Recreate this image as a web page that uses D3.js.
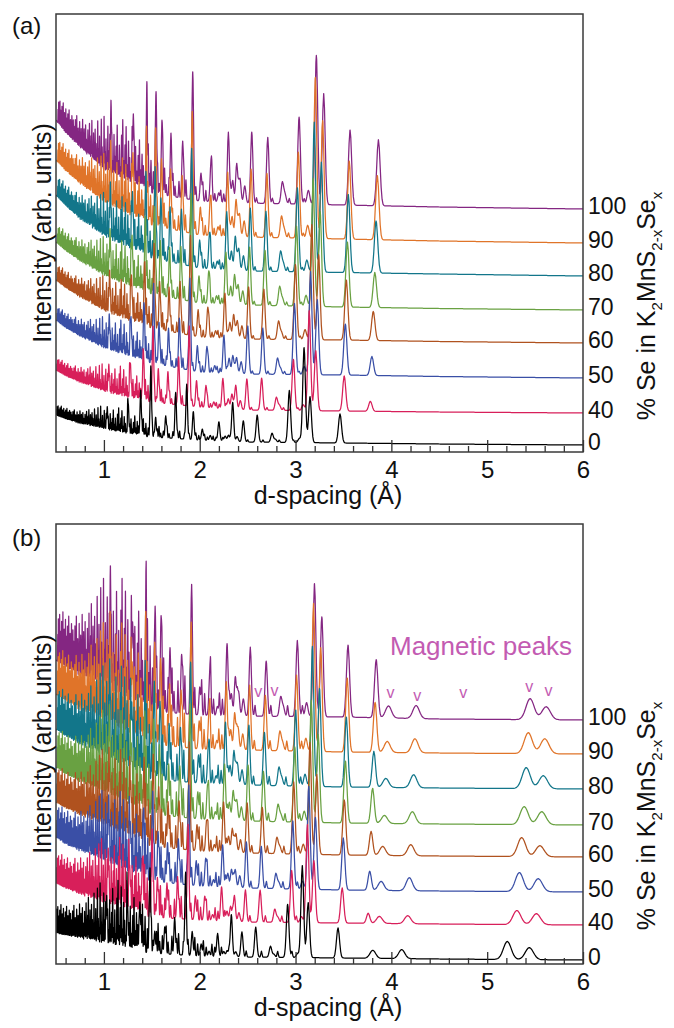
<!DOCTYPE html>
<html><head><meta charset="utf-8">
<script src="https://cdn.jsdelivr.net/npm/d3@7"></script>
<style>
body{margin:0;background:#fff}
text{font-family:"Liberation Sans",Arial,sans-serif;fill:#111}
</style></head>
<body><svg id="chart" width="674" height="1028"></svg>
<script>
// ---------------- DATA ----------------
const seriesLabels = ["0","40","50","60","70","80","90","100"];
const seriesColors = ["#000000","#d81f5a","#3a4fa6","#b0521f","#69a142","#12768a","#e07429","#842682"];
// fraction of the way from the 0 % to the 100 % peak positions (read from peak shifts)
const posFrac = [0, 0.42, 0.53, 0.63, 0.74, 0.83, 0.92, 1.0];
// baseline of each trace at d = 6 Å (intensity units above the panel floor)
const offsetsA = [7, 39, 74, 109, 142, 176, 209, 243];
const offsetsB = [4, 39, 72, 107, 139, 175, 210, 244];
// background (lower envelope) above each baseline
const bgD = [0.5, 0.6, 0.75, 1.0, 1.25, 1.5, 2.0, 2.5, 3.5, 4.5, 6.0];
const bgA = [
  [30, 26, 21, 15, 10, 8, 5, 3, 2, 1, 0],
  [43, 37, 30, 20, 14, 11, 6, 3, 2, 1, 0],
  [58, 50, 41, 28, 20, 15, 6, 4, 3, 1.5, 0],
  [63, 55, 45, 30, 21, 15, 6, 4, 3, 1.5, 0],
  [68, 59, 48, 32, 22, 16, 7, 5, 3, 1.5, 0],
  [81, 70, 56, 37, 26, 18, 8, 5, 3.5, 2, 0],
  [83, 72, 58, 38, 26, 18, 8, 6, 4, 2, 0],
  [89, 76, 60, 36, 25, 16, 8, 6, 4, 2, 0]
];
const bgB = [
  [27, 24, 20, 13, 9, 7, 4, 3, 2, 1, 0],
  [42, 36, 29, 18, 12, 8, 5, 3, 2, 1, 0],
  [55, 47, 39, 27, 17, 11, 6, 4, 2, 1, 0],
  [55, 48, 40, 27, 17, 11, 6, 4, 2, 1, 0],
  [58, 50, 41, 28, 17, 11, 6, 4, 2, 1, 0],
  [60, 52, 42, 28, 16, 10, 6, 4, 2, 1, 0],
  [60, 52, 42, 28, 15, 10, 5, 4, 2, 1, 0],
  [60, 52, 42, 28, 14, 9, 5, 4, 3, 1, 0]
];
// main reflections: d at 0 % Se, d at 100 % Se
const reflD0   = [1.035,1.255,1.384,1.490,1.540,1.645,1.749,1.864,1.933,2.027,2.110,2.200,2.265,2.300,2.344,2.390,2.455,2.600,2.755,2.790,2.935,3.040,3.089,3.151,3.464,3.720];
const reflD100 = [1.074,1.307,1.447,1.544,1.606,1.700,1.822,1.927,2.013,2.118,2.198,2.299,2.344,2.386,2.420,2.470,2.543,2.710,2.862,2.890,3.037,3.134,3.217,3.294,3.569,3.865];
// heights per reflection, one value per series (0,40,...,100 %)
const reflHA = [
  [24,30,38,45,52,60,68,76],[30,36,42,48,54,60,66,72],[46,52,58,62,68,72,78,84],[71,76,80,85,88,92,98,102],
  [20,34,42,48,55,62,68,74],[22,32,38,44,50,55,60,63],[46,48,50,52,53,55,56,57],[55,80,92,100,108,118,122,128],
  [28,26,26,27,27,28,28,28],[11,22,26,30,32,35,37,39],[5,6,7,7,8,8,9,9],[19,30,38,45,52,58,64,70],
  [5,10,15,16,18,19,20,22],[6,15,18,24,30,34,37,39],[39,24,16,18,20,22,23,24],[5,9,12,13,14,15,16,17],
  [21,31,48,52,58,63,68,71],[27,32,46,50,55,60,64,66],[9,13,16,18,19,20,21,21],[3,5,6,7,7,8,8,9],
  [52,51,71,75,80,84,86,87],[4,6,8,10,11,12,13,14],[95,100,103,115,128,150,161,149],[46,60,75,85,95,110,118,111],
  [29,35,51,60,65,78,78,75],[0,10,19,29,35,52,64,66]
];
const reflHB = [
  [52,60,72,85,95,105,118,130],[44,48,54,60,66,72,78,85],[50,58,64,70,76,82,90,97],[85,88,90,92,95,98,102,105],
  [22,40,50,60,70,78,86,95],[27,35,40,46,52,57,62,65],[37,42,45,48,51,54,57,59],[83,95,100,108,114,120,126,130],
  [24,24,25,26,27,28,28,28],[12,24,28,31,34,36,39,41],[5,6,7,7,8,8,9,9],[23,34,42,50,56,62,68,72],
  [5,10,14,16,18,19,20,22],[6,15,18,24,30,34,37,39],[42,26,18,19,21,22,23,24],[5,9,12,13,14,15,16,17],
  [25,32,46,50,56,60,65,69],[30,32,42,46,50,53,55,55],[11,13,15,16,17,18,19,19],[3,5,6,7,7,8,8,9],
  [53,52,68,72,75,76,76,76],[4,6,8,10,11,12,13,14],[92,98,103,112,122,140,148,133],[55,62,72,80,88,98,104,100],
  [30,35,52,55,62,70,74,72],[0,10,19,24,35,36,50,58]
];
// dense weak reflections at short d-spacing (positions for 0 % Se, heights for trace "0" in panel a)
const forest = [
  [0.503,5],[0.509,8],[0.516,4],[0.522,9],[0.529,6],[0.535,3],[0.542,8],[0.548,5],[0.555,10],[0.561,4],
  [0.568,7],[0.574,3],[0.581,9],[0.588,6],[0.594,4],[0.601,8],[0.608,5],[0.614,10],[0.621,3],[0.628,7],
  [0.635,5],[0.642,9],[0.649,4],[0.656,8],[0.663,6],[0.670,3],[0.677,9],[0.684,5],[0.691,11],[0.698,4],
  [0.705,7],[0.713,5],[0.720,10],[0.727,3],[0.735,8],[0.742,6],[0.750,12],[0.757,4],[0.765,9],[0.772,5],
  [0.780,11],[0.788,6],[0.796,4],[0.803,10],[0.811,7],[0.819,13],[0.827,5],[0.835,9],[0.843,15],[0.851,6],
  [0.860,11],[0.868,4],[0.876,13],[0.885,8],[0.893,5],
  [0.902,17],[0.911,7],[0.920,12],[0.929,5],[0.938,19],[0.947,9],[0.956,6],[0.966,21],[0.975,8],[0.985,13],
  [0.994,5],[1.004,18],[1.014,9],[1.024,14],[1.045,11],[1.055,6],[1.066,16],[1.076,8],[1.087,12],[1.098,20],
  [1.109,7],[1.120,13],[1.131,5],[1.142,17],[1.154,23],[1.165,8],[1.177,14],[1.188,21],[1.200,7],[1.212,16],
  [1.224,10],[1.236,5],[1.248,19],[1.270,9],[1.283,15],[1.296,6],[1.309,12],[1.322,18],[1.335,7],[1.348,13],
  [1.361,9],[1.374,5],[1.398,11],[1.411,16],[1.425,7],[1.438,12],
  [1.462,8],[1.478,5],[1.505,9],[1.522,4],[1.558,7],[1.575,10],[1.592,4],[1.620,6],[1.660,8],[1.680,4],
  [1.720,6],[1.770,5],[1.790,7],[1.840,4],[1.890,5],[1.960,6],[1.990,4],[2.050,5],[2.080,3],[2.140,4],
  [2.170,3],[2.240,3],[2.320,2],[2.500,2],[2.660,2],[2.830,2],[2.980,2]
];
const forestAmpA = [1.1, 1.35, 1.55, 1.75, 1.95, 2.2, 2.45, 2.7];
const forestAmpB = [3.0, 3.2, 3.5, 3.8, 4.1, 4.5, 4.9, 5.4];
const forestExpansion = 0.037;   // d(100 %)/d(0 %) - 1
const cellScaleB = 0.994;        // panel (b) peak positions relative to panel (a)
// magnetic reflections (panel b only)
const magD0   = [3.806, 4.108, 5.21, 5.44];
const magD100 = [3.970, 4.258, 5.448, 5.615];
const magH = [[8,7,9,9,8,9,11,12],[9,8,13,11,12,13,14,13],[18,14,19,19,18,21,21,21],[12,11,13,11,13,13,15,13]];
const markerD = [2.61, 2.78, 3.99, 4.27, 4.75, 5.44, 5.64];
const markerLevel = [27, 28, 26, 23, 26, 32, 28];
const majorTicks = [1, 2, 3, 4, 5, 6];
const minorTicks = [0.6,0.8,1.2,1.4,1.6,1.8,2.2,2.4,2.6,2.8,3.2,3.4,3.6,3.8,4.2,4.4,4.6,4.8,5.2,5.4,5.6,5.8];

// ---------------- DRAWING ----------------
const svg = d3.select("#chart");
const x = d3.scaleLinear().domain([0.5, 6]).range([56, 583]);
const magColor = "#c35bb2";

function makeGrid(extra) {
  const g = [];
  for (let d = 0.5; d < 6; d *= 1.0025) g.push(d);
  g.push(6);
  extra.forEach(p => { if (p > 0.5 && p < 6) g.push(p); });
  return g.sort((a, b) => a - b);
}

function buildPeaks(i, panel) {
  const cell = panel === "b" ? cellScaleB : 1;
  const H = panel === "b" ? reflHB : reflHA;
  const amp = panel === "b" ? forestAmpB[i] : forestAmpA[i];
  const f = posFrac[i];
  const peaks = [];
  reflD0.forEach((d0, r) => {
    const p = (d0 + f * (reflD100[r] - d0)) * cell;
    if (H[r][i] > 0) peaks.push({p, h: H[r][i], s: 0.0046 * p});
  });
  forest.forEach(([d0, h]) => {
    const p = d0 * (1 + forestExpansion * f) * cell;
    peaks.push({p, h: h * amp, s: 0.0022 * p});
  });
  if (panel === "b") {
    magD0.forEach((d0, r) => {
      const p = d0 + f * (magD100[r] - d0);
      peaks.push({p, h: magH[r][i], s: 0.0078 * p});
    });
  }
  return peaks;
}

function trace(i, panel) {
  const bg = d3.scaleLinear().domain(bgD).range(panel === "b" ? bgB[i] : bgA[i]).clamp(true);
  const peaks = buildPeaks(i, panel);
  const grid = makeGrid(peaks.map(p => p.p));
  return grid.map(d => {
    let v = bg(d);
    for (const pk of peaks) {
      const z = (d - pk.p) / pk.s;
      if (z > -6 && z < 6) v += pk.h * Math.exp(-0.5 * z * z);
    }
    return [d, v];
  });
}

const panels = [
  {id: "a", top: 14, bottom: 452, offsets: offsetsA, letter: "(a)", letterY: 34},
  {id: "b", top: 524, bottom: 964, offsets: offsetsB, letter: "(b)", letterY: 546}
];

panels.forEach(P => {
  const y = d3.scaleLinear().domain([0, P.bottom - P.top]).range([P.bottom, P.top]);
  const g = svg.append("g");
  const clipId = "clip" + P.id;
  svg.append("clipPath").attr("id", clipId).append("rect")
    .attr("x", 56).attr("y", P.top).attr("width", 527).attr("height", P.bottom - P.top);

  const traces = g.append("g").attr("clip-path", `url(#${clipId})`);
  for (let i = seriesLabels.length - 1; i >= 0; i--) {
    const data = trace(i, P.id);
    const off = P.offsets[i];
    traces.append("path")
      .attr("d", d3.line().x(d => x(d[0])).y(d => y(off + d[1]))(data))
      .attr("fill", "none").attr("stroke", seriesColors[i])
      .attr("stroke-width", 1.25).attr("stroke-linejoin", "round");
  }

  // axis ticks (inward)
  const axMinor = d3.axisBottom(x).tickValues(minorTicks).tickSize(-6).tickFormat("").tickSizeOuter(0);
  const axMajor = d3.axisBottom(x).tickValues(majorTicks).tickSize(-12).tickPadding(9).tickFormat(d3.format("d")).tickSizeOuter(0);
  const gm = g.append("g").attr("transform", `translate(0,${P.bottom})`).call(axMinor);
  const gM = g.append("g").attr("transform", `translate(0,${P.bottom})`).call(axMajor);
  [gm, gM].forEach(a => { a.select(".domain").remove(); a.selectAll("line").attr("stroke", "#333").attr("stroke-width", 1.3); });
  gM.selectAll("text").attr("font-size", 24).attr("fill", "#111").style("font-family", "Liberation Sans, Arial, sans-serif");

  // frame
  g.append("rect").attr("x", 56).attr("y", P.top).attr("width", 527).attr("height", P.bottom - P.top)
    .attr("fill", "none").attr("stroke", "#3a3a3a").attr("stroke-width", 1.5);

  // right composition labels
  seriesLabels.forEach((lab, i) => {
    g.append("text").attr("x", 588).attr("y", y(P.offsets[i]) + 4.5)
      .attr("font-size", 23).text(lab);
  });

  // axis titles
  const cy = (P.top + P.bottom) / 2;
  g.append("text").attr("transform", `translate(51,${cy})rotate(-90)`)
    .attr("text-anchor", "middle").attr("font-size", 25).text("Intensity (arb. units)");
  g.append("text").attr("x", 328).attr("y", P.bottom + 52)
    .attr("text-anchor", "middle").attr("font-size", 25).text("d-spacing (Å)");
  const rt = g.append("text").attr("transform", `translate(655,${P.top + 292})rotate(-90)`)
    .attr("text-anchor", "middle").attr("font-size", 25);
  rt.append("tspan").text("% Se in K");
  rt.append("tspan").attr("font-size", 15).attr("dy", 7).text("2");
  rt.append("tspan").attr("dy", -7).text("MnS");
  rt.append("tspan").attr("font-size", 15).attr("dy", 7).text("2-x");
  rt.append("tspan").attr("dy", -7).text("Se");
  rt.append("tspan").attr("font-size", 15).attr("dy", 7).text("x");

  g.append("text").attr("x", 12).attr("y", P.letterY).attr("font-size", 24).text(P.letter);

  if (P.id === "b") {
    g.append("text").attr("x", 390).attr("y", 655).attr("font-size", 26)
      .style("fill", magColor).text("Magnetic peaks");
    markerD.forEach((d, k) => {
      g.append("text").attr("x", x(d)).attr("y", y(P.offsets[7] + markerLevel[k]) + 4)
        .attr("text-anchor", "middle").attr("font-size", 16).style("fill", magColor).text("v");
    });
  }
});
</script>
</body></html>
